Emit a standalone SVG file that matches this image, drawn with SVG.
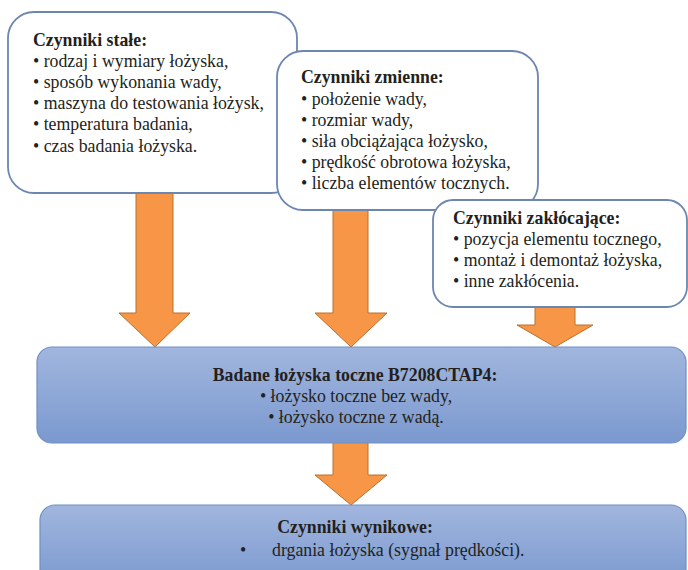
<svg xmlns="http://www.w3.org/2000/svg" width="688" height="570" viewBox="0 0 688 570">
<defs>
<linearGradient id="blueGrad" x1="0" y1="0" x2="0" y2="1">
<stop offset="0" stop-color="#a1b6de"/>
<stop offset="1" stop-color="#7b99cf"/>
</linearGradient>
<style>
.box{fill:#ffffff;stroke:#6d86b0;stroke-width:1.8}
.bbox{fill:url(#blueGrad);stroke:#6f8fc6;stroke-width:1.2}
.arrow{fill:#f79646;stroke:#b8702f;stroke-width:1}
.txt{font-family:'Liberation Serif','DejaVu Serif',serif;font-size:17.8px;fill:#231f20}
.t{font-weight:bold}
.c{text-anchor:middle}
</style>
</defs>
<rect width="688" height="570" fill="#ffffff"/>
<g id="connectors">
<path class="arrow" d="M136,190 L173,190 L173,313 L190,313 L155,347 L119,313 L136,313 Z"/>
<path class="arrow" d="M333,205 L368,205 L368,313 L387,313 L351,347 L315,313 L333,313 Z"/>
<path class="arrow" d="M535,300 L575,300 L575,325 L593,325 L555,347 L517,325 L535,325 Z"/>
<path class="arrow" d="M333,440 L368,440 L368,475 L387,475 L351,505 L315,475 L333,475 Z"/>
</g>
<g id="stale" class="txt">
<rect class="box" x="8" y="12" width="289" height="181" rx="26"/>
<text class="t" x="33" y="46">Czynniki stałe:</text>
<text x="33" y="67">• rodzaj i wymiary łożyska,</text>
<text x="33" y="88">• sposób wykonania wady,</text>
<text x="33" y="109">• maszyna do testowania łożysk,</text>
<text x="33" y="130">• temperatura badania,</text>
<text x="33" y="152">• czas badania łożyska.</text>
</g>
<g id="zmienne" class="txt">
<rect class="box" x="277" y="51" width="261" height="159" rx="26"/>
<text class="t" x="301" y="83">Czynniki zmienne:</text>
<text x="301" y="105">• położenie wady,</text>
<text x="301" y="126">• rozmiar wady,</text>
<text x="301" y="147">• siła obciążająca łożysko,</text>
<text x="301" y="168">• prędkość obrotowa łożyska,</text>
<text x="301" y="189">• liczba elementów tocznych.</text>
</g>
<g id="zaklocajace" class="txt">
<rect class="box" x="433" y="200" width="254" height="107" rx="20"/>
<text class="t" x="453" y="224">Czynniki zakłócające:</text>
<text x="453" y="245">• pozycja elementu tocznego,</text>
<text x="453" y="266">• montaż i demontaż łożyska,</text>
<text x="453" y="287">• inne zakłócenia.</text>
</g>
<g id="badane" class="txt">
<rect class="bbox" x="37" y="347" width="649" height="96" rx="15"/>
<text class="t c" x="355" y="381">Badane łożyska toczne B7208CTAP4:</text>
<text class="c" x="356" y="402">• łożysko toczne bez wady,</text>
<text class="c" x="356" y="423">• łożysko toczne z wadą.</text>
</g>
<g id="wynikowe" class="txt">
<rect class="bbox" x="40" y="505" width="646" height="80" rx="15"/>
<text class="t c" x="355" y="533">Czynniki wynikowe:</text>
<text x="240" y="556">•</text>
<text x="272" y="556">drgania łożyska (sygnał prędkości).</text>
</g>
</svg>
